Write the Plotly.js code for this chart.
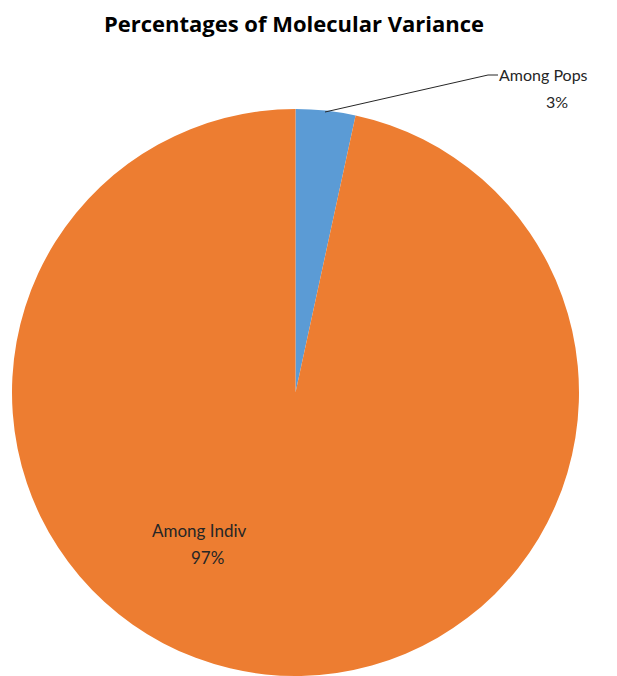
<!DOCTYPE html>
<html>
<head>
<meta charset="utf-8">
<script src="https://cdn.plot.ly/plotly-3.0.1.min.js"></script>
<style>html,body{margin:0;padding:0;background:#fff;}#chart{width:617px;height:676px;}</style>
</head>
<body>
<div id="chart"></div>
<script>
const categories = ["Among Pops", "Among Indiv"];
const values = [3.4, 96.6];
const colors = ["#5B9BD5", "#ED7D31"];
const chartTitle = "Percentages of Molecular Variance";

const total = values.reduce((a, b) => a + b, 0);
const pctText = values.map(v => Math.round(v / total * 100) + "%");

const trace = {
  type: "pie",
  labels: categories,
  values: values,
  sort: false,
  direction: "clockwise",
  rotation: 0,
  marker: { colors: colors, line: { width: 0 } },
  textinfo: "none",
  hoverinfo: "label+percent",
  showlegend: false,
  domain: { x: [10 / 617, 581 / 617], y: [0, 1 - 109 / 676] }
};

const labelFont = { family: "Lato, 'Open Sans', sans-serif", size: 16, color: "#262626" };
const px = (x, y) => ({ x: x / 617, y: 1 - y / 676 });

function ann(text, x, y, size) {
  const p = px(x, y);
  return { text: text, xref: "paper", yref: "paper", x: p.x, y: p.y,
           xanchor: "center", yanchor: "middle", showarrow: false,
           font: Object.assign({}, labelFont, size ? { size: size } : {}) };
}

const layout = {
  width: 617,
  height: 676,
  margin: { l: 0, r: 0, t: 0, b: 0 },
  paper_bgcolor: "#ffffff",
  title: {
    text: "<b>" + chartTitle + "</b>",
    font: { family: "'Open Sans', sans-serif", size: 22, color: "#000000" },
    x: 294 / 617, xanchor: "center",
    y: 1 - 24 / 676, yanchor: "middle"
  },
  shapes: [{
    type: "path",
    xref: "paper", yref: "paper",
    path: "M " + (325 / 617) + "," + (1 - 112 / 676) +
          " L " + (488 / 617) + "," + (1 - 75 / 676) +
          " L " + (498 / 617) + "," + (1 - 75 / 676),
    line: { color: "#262626", width: 1 }
  }],
  annotations: [
    ann(categories[0], 543, 74),
    ann(pctText[0], 557, 101),
    ann(categories[1], 199, 530, 17),
    ann(pctText[1], 207, 557, 17)
  ]
};

Plotly.newPlot("chart", [trace], layout, { displayModeBar: false, staticPlot: true });
</script>
</body>
</html>
